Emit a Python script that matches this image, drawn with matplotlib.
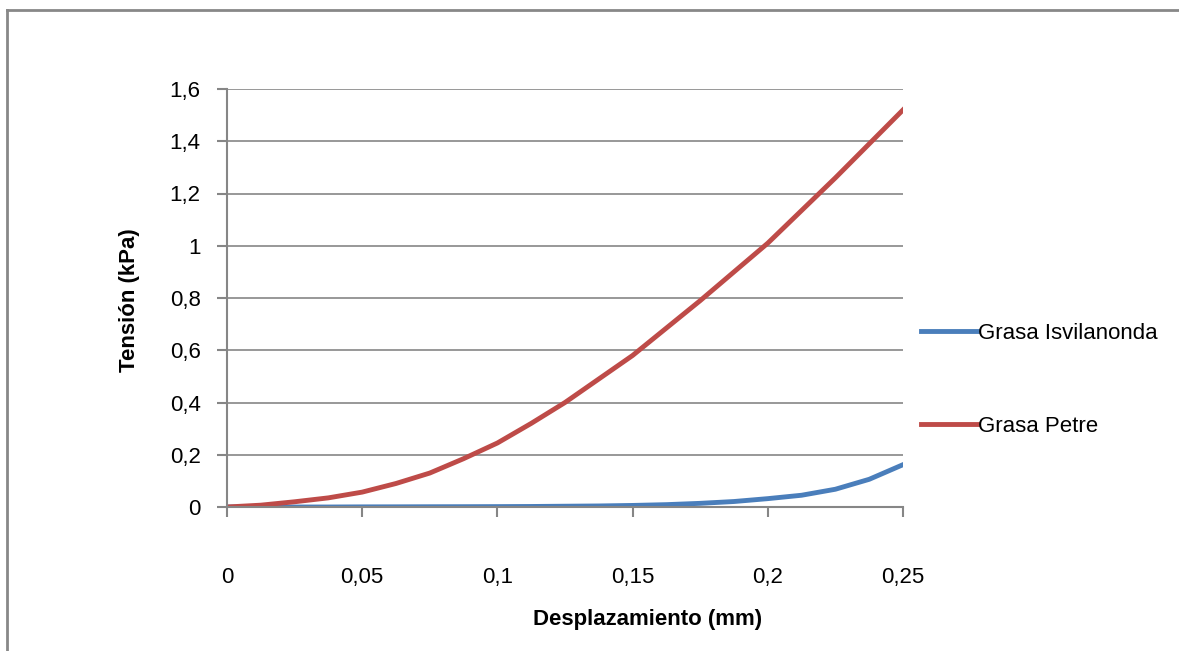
import matplotlib
matplotlib.use("Agg")
import matplotlib.pyplot as plt
from matplotlib.lines import Line2D

# desplazamiento (mm)
desplazamiento = [0, 0.0125, 0.025, 0.0375, 0.05, 0.0625, 0.075, 0.0875, 0.1,
                  0.1125, 0.125, 0.1375, 0.15, 0.1625, 0.175, 0.1875, 0.2,
                  0.2125, 0.225, 0.2375, 0.25]

# tension (kPa)
isvilanonda = [0, 0, 0, 0, 0.0005, 0.0007, 0.001, 0.0012, 0.0015,
               0.002, 0.003, 0.004, 0.006, 0.009, 0.014, 0.021, 0.032,
               0.045, 0.068, 0.106, 0.162]
petre = [0, 0.007, 0.02, 0.035, 0.057, 0.09, 0.13, 0.185, 0.245,
         0.32, 0.40, 0.49, 0.58, 0.685, 0.79, 0.90, 1.01,
         1.135, 1.26, 1.39, 1.52]

series_names = ["Grasa Isvilanonda", "Grasa Petre"]
series_colors = ["#4A7EBB", "#BE4B48"]

x_ticks = [0, 0.05, 0.1, 0.15, 0.2, 0.25]
x_tick_labels = ["0", "0,05", "0,1", "0,15", "0,2", "0,25"]
y_ticks = [0, 0.2, 0.4, 0.6, 0.8, 1.0, 1.2, 1.4, 1.6]
y_tick_labels = ["0", "0,2", "0,4", "0,6", "0,8", "1", "1,2", "1,4", "1,6"]

plt.rcParams["font.family"] = ["Liberation Sans", "DejaVu Sans"]
grey = "#868686"
fs = 16

fig = plt.figure(figsize=(11.79, 6.51), dpi=100)
ax = fig.add_axes([227 / 1179, 1 - 507 / 651, 676 / 1179, 418 / 651])

ax.plot(desplazamiento, isvilanonda, color=series_colors[0], lw=3.5,
        label=series_names[0], solid_joinstyle="round")
ax.plot(desplazamiento, petre, color=series_colors[1], lw=3.5,
        label=series_names[1], solid_joinstyle="round")

ax.set_xlim(0, 0.25)
ax.set_ylim(0, 1.6)
ax.set_xticks(x_ticks)
ax.set_xticklabels(x_tick_labels)
ax.set_yticks(y_ticks)
ax.set_yticklabels(y_tick_labels)

ax.grid(axis="y", color=grey, lw=1.2)
ax.set_axisbelow(True)
for side in ["top", "right"]:
    ax.spines[side].set_visible(False)
for side in ["left", "bottom"]:
    ax.spines[side].set_color(grey)
    ax.spines[side].set_linewidth(1.5)
ax.tick_params(axis="both", direction="out", length=7, width=1.5, color=grey,
               labelsize=fs, labelcolor="black")
ax.tick_params(axis="x", pad=36)
ax.tick_params(axis="y", pad=12)

fig.text(130 / 1179, 1 - 300 / 651, "Tensión (kPa)", rotation=90,
         fontsize=fs, fontweight="bold", ha="center", va="center")
fig.text(648 / 1179, 1 - 620 / 651, "Desplazamiento (mm)",
         fontsize=fs, fontweight="bold", ha="center", va="center")

fig.legend(loc="center left", bbox_to_anchor=(901 / 1179, 1 - 380 / 651),
           frameon=False, fontsize=fs, handlelength=2.5, handletextpad=0.05,
           labelspacing=3.25)

# outer chart frame (left and top edges visible)
fig.add_artist(Line2D([7 / 1179, 7 / 1179], [0, 1 - 10 / 651],
                      color="#888888", lw=2, transform=fig.transFigure))
fig.add_artist(Line2D([7 / 1179, 1], [1 - 10 / 651, 1 - 10 / 651],
                      color="#888888", lw=2, transform=fig.transFigure))

fig.savefig("out.png", dpi=100)
